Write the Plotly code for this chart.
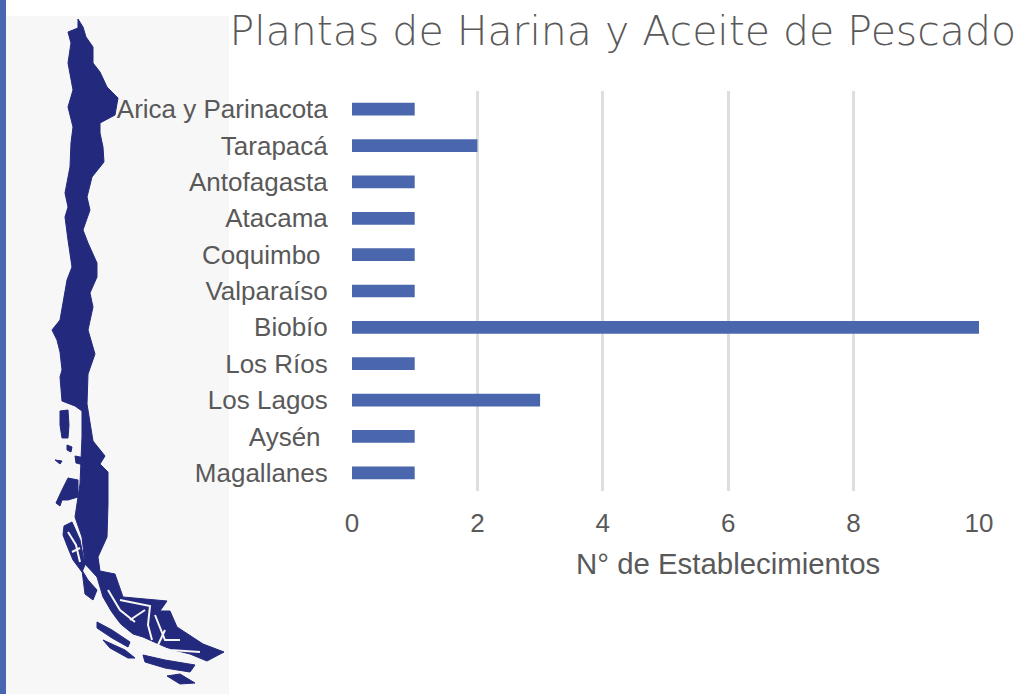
import plotly.graph_objects as go

regions = ["Arica y Parinacota", "Tarapacá", "Antofagasta", "Atacama", "Coquimbo\u00a0", "Valparaíso",
           "Biobío", "Los Ríos", "Los Lagos", "Aysén\u00a0", "Magallanes"]
plants = [1, 2, 1, 1, 1, 1, 10, 1, 3, 1, 1]
x_ticks = [0, 2, 4, 6, 8, 10]

W, H = 1022, 694

# Silhouette of the map, traced in image pixels
mainland = [(78,19),(83,27),(86,37),(93,47),(93,63),(100,72),(107,87),(118,98),(115,115),(100,123),(100,133),
            (103,147),(104,162),(92,177),(87,197),(90,210),(83,230),(88,243),(97,263),(97,277),(90,293),(93,307),
            (88,330),(95,354),(88,374),(87,404),(93,441),(105,456),(100,464),(108,472),(108,504),(107,537),(98,557),
            (100,571),(115,574),(123,597),(167,601),(160,611),(170,611),(177,627),(203,644),(224,652),(207,661),
            (190,654),(170,649),(143,637),(133,634),(117,621),(103,597),(97,577),(85,564),(82,537),(75,517),(80,484),
            (82,437),(82,411),(75,406),(62,401),(60,377),(62,370),(60,352),(57,340),(52,330),(60,320),(67,280),
            (72,267),(68,240),(65,217),(68,207),(65,193),(70,167),(71,143),(73,127),(68,107),(73,90),(68,63),(71,43),
            (68,32),(78,28)]
islands = [
    [(60,411),(68,410),(69,425),(68,438),(62,438),(60,425)],
    [(56,503),(62,490),(68,478),(78,480),(78,497),(68,500),(62,500),(60,506)],
    [(64,526),(72,522),(80,540),(85,565),(82,572),(73,560),(68,548),(63,535)],
    [(82,570),(88,580),(97,590),(93,600),(85,594)],
    [(97,622),(112,630),(130,642),(128,647),(112,638),(97,628)],
    [(143,655),(165,660),(195,665),(190,672),(165,668),(145,662)],
    [(167,676),(180,674),(195,683),(180,684)],
    [(67,445),(72,447),(71,452),(67,450)],
    [(75,456),(85,458),(84,465),(76,463)],
    [(55,460),(62,461),(60,464)],
    [(103,640),(125,650),(135,658),(128,658),(110,648)],
]
channels = [
    [(108,590),(120,610),(135,622)],
    [(120,600),(150,606),(148,625),(152,640)],
    [(130,620),(145,610)],
    [(155,615),(165,640),(180,640)],
    [(150,645),(170,650),(200,652)],
    [(165,630),(158,645)],
    [(110,612),(125,632)],
    [(68,532),(76,545),(80,562)],
    [(72,552),(80,548)],
]

def to_path(pts, close=True):
    d = "M" + " L".join(f"{x/W:.5f},{1-y/H:.5f}" for x, y in pts)
    return d + (" Z" if close else "")

navy = "#23297c"
panel = "#f7f7f7"
shapes = [
    dict(type="rect", xref="paper", yref="paper", x0=6/W, x1=229/W, y0=0, y1=1-16/H,
         fillcolor=panel, line_width=0, layer="below"),
    dict(type="rect", xref="paper", yref="paper", x0=0, x1=6/W, y0=0, y1=1,
         fillcolor="#4667b0", line_width=0, layer="below"),
    dict(type="path", xref="paper", yref="paper", path=to_path(mainland),
         fillcolor=navy, line=dict(color=navy, width=1), layer="below"),
]
for isl in islands:
    shapes.append(dict(type="path", xref="paper", yref="paper", path=to_path(isl),
                       fillcolor=navy, line=dict(color=navy, width=1), layer="below"))
for ch in channels:
    shapes.append(dict(type="path", xref="paper", yref="paper", path=to_path(ch, False),
                       line=dict(color=panel, width=2), layer="below"))

fig = go.Figure(go.Bar(x=plants, y=regions, orientation="h", marker=dict(color="#4a66ac", line_width=0),
                       width=0.35, showlegend=False))
fig.update_layout(
    width=W, height=H, autosize=False,
    margin=dict(l=0, r=0, t=0, b=0, autoexpand=False),
    paper_bgcolor="white", plot_bgcolor="rgba(0,0,0,0)",
    shapes=shapes,
    font=dict(family="Liberation Sans", color="#595959", size=26),
    title=dict(text="Plantas de Harina y Aceite de Pescado", x=1016/W, xanchor="right", y=1-31/H, yanchor="middle",
               font=dict(family="DejaVu Sans", size=41, color="#595959", weight=200)),
    xaxis=dict(domain=[352/W, 979/W], range=[0, 10], tickvals=x_ticks, showgrid=True, gridcolor="#dedede", gridwidth=2.5,
               zeroline=False, showline=False, ticks="outside", ticklen=9, tickcolor="rgba(0,0,0,0)",
               tickfont=dict(size=26), anchor="y"),
    yaxis=dict(domain=[1-491/H, 1-91/H], autorange="reversed", categoryorder="array", categoryarray=regions,
               showgrid=False, zeroline=False, showline=False, ticks="outside", ticklen=18, tickcolor="rgba(0,0,0,0)",
               tickfont=dict(size=26)),
    annotations=[dict(text="N° de Establecimientos", xref="paper", yref="paper", x=728/W, y=1-563/H,
                      xanchor="center", yanchor="middle", showarrow=False, font=dict(size=29.4))],
)
fig.write_html("out.html", config=dict(displayModeBar=False),
               post_script="document.body.style.margin='0';document.documentElement.style.overflow='hidden';")
